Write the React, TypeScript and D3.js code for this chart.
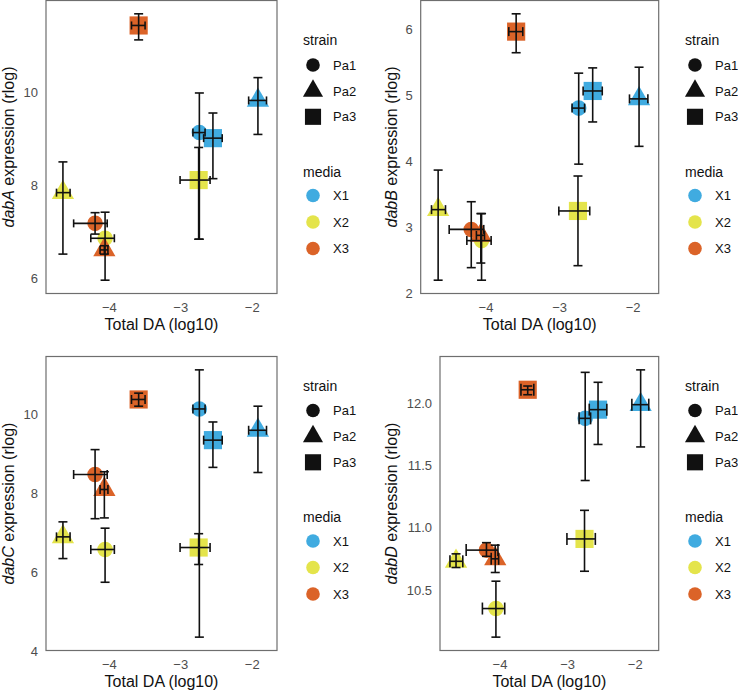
import React from "react";
import * as d3 from "d3";

// ---------- data ----------
const strainNames = ["Pa1", "Pa2", "Pa3"];
const mediaNames = ["X1", "X2", "X3"];
const mediaColors = ["#40ABE0", "#E4E44B", "#DB6328"];

// order of conditions: Pa1X1, Pa2X1, Pa3X1, Pa1X2, Pa2X2, Pa3X2, Pa1X3, Pa2X3, Pa3X3
const pointStrain = ["Pa1", "Pa2", "Pa3", "Pa1", "Pa2", "Pa3", "Pa1", "Pa2", "Pa3"];
const pointMedia = ["X1", "X1", "X1", "X2", "X2", "X2", "X3", "X3", "X3"];

const totalDA = [-2.74, -1.92, -2.55, -4.06, -4.65, -2.75, -4.2, -4.07, -3.59];
const totalDALow = [-2.83, -2.05, -2.68, -4.26, -4.74, -3.01, -4.5, -4.13, -3.69];
const totalDAHigh = [-2.66, -1.8, -2.42, -3.93, -4.55, -2.59, -4.03, -4.02, -3.5];

const dabA = [9.13, 9.82, 9.01, 6.86, 7.84, 8.11, 7.18, 6.61, 11.43];
const dabALow = [6.84, 9.09, 8.14, 5.96, 6.52, 6.84, 6.95, 6.52, 11.12];
const dabAHigh = [9.98, 10.31, 9.55, 7.42, 8.5, 8.81, 7.41, 6.7, 11.68];

const dabB = [4.81, 4.95, 5.07, 2.8, 3.27, 3.25, 2.97, 2.88, 5.97];
const dabBLow = [3.96, 4.23, 4.6, 2.2, 2.2, 2.42, 2.39, 2.46, 5.65];
const dabBHigh = [5.34, 5.43, 5.42, 3.21, 3.87, 3.78, 3.39, 3.21, 6.24];

const dabC = [10.13, 9.59, 9.34, 6.57, 6.89, 6.62, 8.47, 8.09, 10.37];
const dabCLow = [4.35, 8.52, 8.65, 5.74, 6.34, 6.19, 7.35, 7.37, 10.2];
const dabCHigh = [11.12, 10.2, 9.8, 7.11, 7.27, 6.97, 9.1, 8.54, 10.53];

const dabD = [11.88, 11.99, 11.95, 10.35, 10.73, 10.91, 10.82, 10.75, 12.11];
const dabDLow = [11.38, 11.65, 11.67, 10.12, 10.68, 10.65, 10.77, 10.64, 12.07];
const dabDHigh = [12.25, 12.27, 12.17, 10.57, 10.79, 11.14, 10.88, 10.86, 12.14];

const xTicks = [-4, -3, -2];
const dabATicks = [6, 8, 10];
const dabBTicks = [2, 3, 4, 5, 6];
const dabCTicks = [4, 6, 8, 10];
const dabDTicks = [10.5, 11.0, 11.5, 12.0];

const geneNames = ["dabA", "dabB", "dabC", "dabD"];

// ---------- helpers ----------
const FONT = "'Liberation Sans', Arial, Helvetica, sans-serif";
const minus = (s: string) => s.replace("-", "\u2212");

function expand(lo: number[], hi: number[]): [number, number] {
  const a = d3.min(lo) as number;
  const b = d3.max(hi) as number;
  const pad = (b - a) * 0.05;
  return [a - pad, b + pad];
}

const symbolFor: Record<string, d3.SymbolType> = {
  Pa1: d3.symbolCircle,
  Pa2: d3.symbolTriangle,
  Pa3: d3.symbolSquare,
};
const pointSize: Record<string, number> = { Pa1: 190, Pa2: 215, Pa3: 330 };
const legendSize: Record<string, number> = { Pa1: 145, Pa2: 175, Pa3: 260 };

type PanelProps = {
  gene: string;
  mid: number[];
  low: number[];
  high: number[];
  ticks: number[];
  fmt: (v: number) => string;
  box: { x0: number; x1: number; y0: number; y1: number };
  titleX: number;
  legendX: number;
  legendDy: number;
  hCap: number;
};

function Panel(p: PanelProps) {
  const { box } = p;
  const x = d3.scaleLinear().domain(expand(totalDALow, totalDAHigh)).range([box.x0, box.x1]);
  const y = d3.scaleLinear().domain(expand(p.low, p.high)).range([box.y1, box.y0]);
  const color = d3.scaleOrdinal<string, string>().domain(mediaNames).range(mediaColors);
  const vCap = 4.5;
  const hCap = p.hCap;
  const cy = (box.y0 + box.y1) / 2;
  const cx = (box.x0 + box.x1) / 2;
  const idx = d3.range(totalDA.length);
  const lx = p.legendX;
  const dy = p.legendDy;
  return (
    <g>
      {/* points */}
      {idx.map((i) => (
        <path
          key={"pt" + i}
          d={d3.symbol(symbolFor[pointStrain[i]], pointSize[pointStrain[i]])() as string}
          transform={`translate(${x(totalDA[i])},${y(p.mid[i])})`}
          fill={color(pointMedia[i])}
        />
      ))}
      {/* error bars */}
      {idx.map((i) => {
        const xx = x(totalDA[i]);
        const yy = y(p.mid[i]);
        const yl = y(p.low[i]);
        const yh = y(p.high[i]);
        const xl = x(totalDALow[i]);
        const xh = x(totalDAHigh[i]);
        return (
          <g key={"eb" + i} stroke="#111" strokeWidth={1.6} fill="none">
            <line x1={xx} x2={xx} y1={yl} y2={yh} />
            <line x1={xx - vCap} x2={xx + vCap} y1={yl} y2={yl} />
            <line x1={xx - vCap} x2={xx + vCap} y1={yh} y2={yh} />
            <line x1={xl} x2={xh} y1={yy} y2={yy} />
            <line x1={xl} x2={xl} y1={yy - hCap} y2={yy + hCap} />
            <line x1={xh} x2={xh} y1={yy - hCap} y2={yy + hCap} />
          </g>
        );
      })}
      {/* border */}
      <rect
        x={box.x0}
        y={box.y0}
        width={box.x1 - box.x0}
        height={box.y1 - box.y0}
        fill="none"
        stroke="#6e6e6e"
        strokeWidth={1.2}
      />
      {/* x ticks */}
      {xTicks.map((t) => (
        <text key={"xt" + t} x={x(t)} y={box.y1 + 18.5} textAnchor="middle" fontSize={13} fill="#4d4d4d" fontFamily={FONT}>
          {minus(String(t))}
        </text>
      ))}
      {/* y ticks */}
      {p.ticks.map((t) => (
        <text key={"yt" + t} x={box.x0 - 8} y={y(t)} dy="0.36em" textAnchor="end" fontSize={13} fill="#4d4d4d" fontFamily={FONT}>
          {p.fmt(t)}
        </text>
      ))}
      {/* axis titles */}
      <text x={cx} y={box.y1 + 36.5} textAnchor="middle" fontSize={16} fill="#111" fontFamily={FONT}>
        Total DA (log10)
      </text>
      <text
        transform={`translate(${p.titleX},${cy}) rotate(-90)`}
        textAnchor="middle"
        fontSize={16}
        fill="#111"
        fontFamily={FONT}
      >
        <tspan fontStyle="italic">{p.gene}</tspan>
        <tspan> expression (rlog)</tspan>
      </text>
      {/* legend: strain */}
      <text x={lx} y={45 + dy} fontSize={14} fill="#111" fontFamily={FONT}>strain</text>
      {strainNames.map((s, k) => (
        <g key={"ls" + s}>
          <path
            d={d3.symbol(symbolFor[s], legendSize[s])() as string}
            transform={`translate(${lx + 10},${65 + k * 25.9 + dy})`}
            fill="#111"
          />
          <text x={lx + 30} y={65 + k * 25.9 + dy} dy="0.36em" fontSize={13} fill="#111" fontFamily={FONT}>
            {s}
          </text>
        </g>
      ))}
      {/* legend: media */}
      <text x={lx} y={176.5 + dy} fontSize={14} fill="#111" fontFamily={FONT}>media</text>
      {mediaNames.map((m, k) => (
        <g key={"lm" + m}>
          <circle cx={lx + 10} cy={195.5 + k * 26.5 + dy} r={6.8} fill={color(m)} />
          <text x={lx + 30} y={195.5 + k * 26.5 + dy} dy="0.36em" fontSize={13} fill="#111" fontFamily={FONT}>
            {m}
          </text>
        </g>
      ))}
    </g>
  );
}

export default function App() {
  const fmt0 = (v: number) => String(v);
  const fmt1 = (v: number) => d3.format(".1f")(v);
  return (
    <div style={{ position: "absolute", left: 0, top: 0 }}>
      <svg width={738} height={692} style={{ display: "block", background: "#fff" }}>
        <Panel
          gene={geneNames[0]}
          mid={dabA}
          low={dabALow}
          high={dabAHigh}
          ticks={dabATicks}
          fmt={fmt0}
          box={{ x0: 46, x1: 277, y0: 0.5, y1: 293.5 }}
          titleX={14}
          legendX={303}
          legendDy={0}
          hCap={4}
        />
        <Panel
          gene={geneNames[1]}
          mid={dabB}
          low={dabBLow}
          high={dabBHigh}
          ticks={dabBTicks}
          fmt={fmt0}
          box={{ x0: 420.7, x1: 658.7, y0: 0.5, y1: 293.5 }}
          titleX={396.5}
          legendX={685}
          legendDy={0}
          hCap={4.5}
        />
        <Panel
          gene={geneNames[2]}
          mid={dabC}
          low={dabCLow}
          high={dabCHigh}
          ticks={dabCTicks}
          fmt={fmt0}
          box={{ x0: 46, x1: 277, y0: 356.5, y1: 650.5 }}
          titleX={14}
          legendX={303}
          legendDy={345.5}
          hCap={4.5}
        />
        <Panel
          gene={geneNames[3]}
          mid={dabD}
          low={dabDLow}
          high={dabDHigh}
          ticks={dabDTicks}
          fmt={fmt1}
          box={{ x0: 440, x1: 658.7, y0: 356.5, y1: 650.5 }}
          titleX={396.5}
          legendX={685}
          legendDy={345.5}
          hCap={6}
        />
      </svg>
    </div>
  );
}
